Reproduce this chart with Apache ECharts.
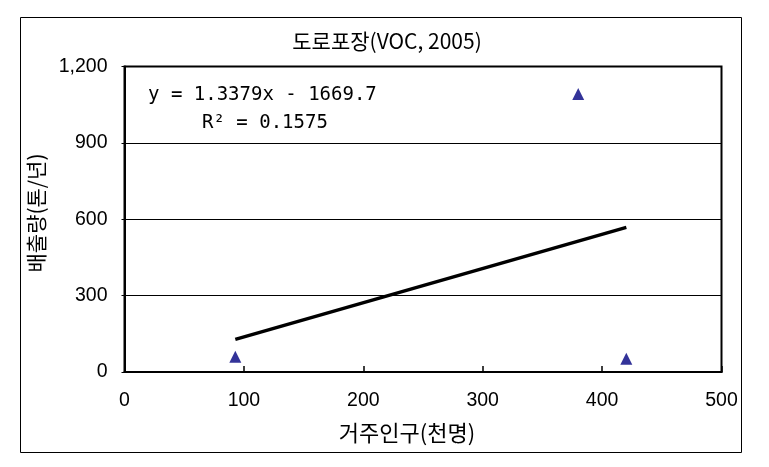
<!DOCTYPE html>
<html>
<head>
<meta charset="utf-8">
<script src="https://cdn.jsdelivr.net/npm/echarts@6/dist/echarts.min.js"></script>
<style>html,body{margin:0;padding:0;background:#fff;}#c{width:769px;height:467px;}</style>
</head>
<body>
<div id="c"></div>
<script>
// Data
var titleText = '도로포장(VOC, 2005)';
var xAxisName = '거주인구(천명)';
var yAxisName = '배출량(톤/년)';
var population = [92.8, 380, 420.3];      // x values (천명)
var emission = [60, 1092, 52];             // y values (톤/년)
var trendX = [92.8, 420.3];
var trendY = [128, 568];
var xTicks = [0, 100, 200, 300, 400, 500];
var yTicks = [0, 300, 600, 900, 1200];
var yTickLabels = ['0', '300', '600', '900', '1,200'];
var eqText = 'y = 1.3379x - 1669.7';
var r2Text = 'R² = 0.1575';

var scatterData = population.map(function (x, i) { return [x, emission[i]]; });
var trendData = trendX.map(function (x, i) { return [x, trendY[i]]; });

var chart = echarts.init(document.getElementById('c'), null, {renderer: 'canvas'});
var labelFont = "'Liberation Sans', Arial, sans-serif";
var cjkFont = "'Noto Sans CJK KR', sans-serif";
chart.setOption({
  backgroundColor: '#ffffff',
  animation: false,
  grid: {
    left: 124.5, right: 47.5, top: 66.5, bottom: 95,
    show: true, borderColor: '#000', borderWidth: 2, backgroundColor: 'transparent'
  },
  xAxis: {
    type: 'value', min: xTicks[0], max: xTicks[xTicks.length - 1], interval: 100,
    axisLine: {show: true, lineStyle: {color: '#000', width: 2}},
    axisTick: {show: true, inside: true, length: 6, lineStyle: {color: '#000', width: 1.5}},
    axisLabel: {color: '#000', fontSize: 19.5, fontFamily: labelFont, margin: 19},
    splitLine: {show: false}
  },
  yAxis: {
    type: 'value', min: yTicks[0], max: yTicks[yTicks.length - 1], interval: 300,
    axisLine: {show: true, lineStyle: {color: '#000', width: 2}},
    axisTick: {show: true, inside: false, length: 3, lineStyle: {color: '#000', width: 1}},
    axisLabel: {
      color: '#000', fontSize: 19.5, fontFamily: labelFont, margin: 17,
      formatter: function (v) { var i = yTicks.indexOf(v); return i >= 0 ? yTickLabels[i] : ''; }
    },
    splitLine: {show: true, lineStyle: {color: '#000', width: 1}}
  },
  series: [
    {
      type: 'line', data: trendData, showSymbol: false, symbol: 'none',
      lineStyle: {color: '#000', width: 3.5}, z: 3
    },
    {
      type: 'scatter', data: scatterData, symbol: 'triangle', symbolSize: [12, 12],
      itemStyle: {color: '#000080'}, z: 4
    }
  ],
  graphic: [
    {type: 'rect', shape: {x: 20.5, y: 17.5, width: 721, height: 435},
     style: {fill: 'none', stroke: '#000', lineWidth: 1}, silent: true},
    {type: 'text', x: 387, y: 41, style: {text: titleText, fill: '#000', font: "21px " + cjkFont,
      textAlign: 'center', textVerticalAlign: 'middle'}},
    {type: 'text', x: 407, y: 433, style: {text: xAxisName, fill: '#000', font: "22px " + cjkFont,
      textAlign: 'center', textVerticalAlign: 'middle'}},
    {type: 'text', x: 36, y: 213, rotation: Math.PI / 2, style: {text: yAxisName, fill: '#000', font: "21px " + cjkFont,
      textAlign: 'center', textVerticalAlign: 'middle'}},
    {type: 'text', x: 148, y: 95, style: {text: eqText, fill: '#000', font: "19px 'DejaVu Sans Mono', monospace",
      textAlign: 'left', textVerticalAlign: 'middle'}},
    {type: 'text', x: 202, y: 123, style: {text: r2Text, fill: '#000', font: "19px 'DejaVu Sans Mono', monospace",
      textAlign: 'left', textVerticalAlign: 'middle'}}
  ]
});
</script>
</body>
</html>
